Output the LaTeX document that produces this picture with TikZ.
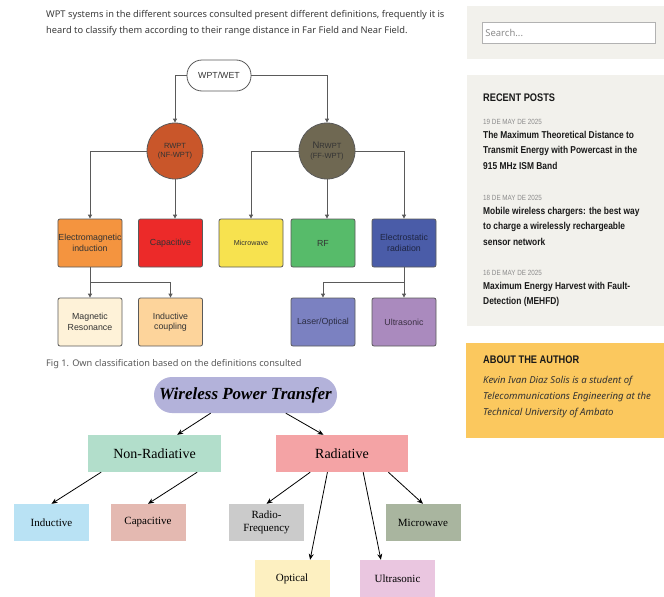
\documentclass[tikz,border=0pt]{standalone}
\usepackage{fontspec}
\setmainfont{Liberation Serif}
\setsansfont{Liberation Sans}
\newfontfamily\plexfont{Noto Sans}
\newfontfamily\narrowfont[FakeStretch=0.84]{Liberation Sans}
\usepackage{tikz}
\usetikzlibrary{shapes.geometric, arrows.meta, positioning, calc}

% page colours
\definecolor{sidebg}{HTML}{F2F1EC}
\definecolor{authorbg}{HTML}{FBC85E}
\definecolor{bodytxt}{HTML}{3A3A3A}
\definecolor{lineg}{HTML}{5A5A5A}
% upper figure
\definecolor{rwptc}{HTML}{C9562A}
\definecolor{nrwptc}{HTML}{6F6852}
\definecolor{emc}{HTML}{F4943F}
\definecolor{capc}{HTML}{EC2A29}
\definecolor{mwc}{HTML}{F7E24F}
\definecolor{rfc}{HTML}{57BB6A}
\definecolor{esc}{HTML}{4A5CA8}
\definecolor{mrc}{HTML}{FEF2D8}
\definecolor{icc}{HTML}{FDD49B}
\definecolor{loc}{HTML}{7B81C1}
\definecolor{usc}{HTML}{AA8ABE}
% lower figure
\definecolor{wptc}{HTML}{B3B2DA}
\definecolor{nonradc}{HTML}{B2DECB}
\definecolor{radc}{HTML}{F4A3A5}
\definecolor{indc}{HTML}{B9E2F4}
\definecolor{capl}{HTML}{E4B9B1}
\definecolor{rfl}{HTML}{CBCBCB}
\definecolor{mwl}{HTML}{A9B59F}
\definecolor{optl}{HTML}{FDF0C1}
\definecolor{usl}{HTML}{EAC6E0}

\begin{document}
\begin{tikzpicture}[x=1pt, y=-1pt,
  ubox/.style={draw=lineg, line width=0.8pt, rounded corners=2pt, minimum width=64pt, minimum height=48pt, inner sep=0.5pt, align=center, font=\sffamily\fontsize{8.8}{10.5}\selectfont, text=black!80},
  ucirc/.style={circle, draw=lineg, line width=0.8pt, minimum size=56pt, inner sep=0pt, align=center, font=\sffamily\fontsize{7.5}{9.5}\selectfont, text=black!80},
  uarr/.style={draw=lineg, line width=0.9pt, -{Triangle[length=4pt,width=4pt]}},
  lbox/.style={minimum width=75pt, minimum height=37pt, inner sep=1pt, align=center, font=\fontsize{11}{12.5}\selectfont},
  larr/.style={line width=0.8pt, -{Stealth[length=6pt,width=5pt]}},
  sidetxt/.style={anchor=west, inner sep=0pt, align=left, font=\narrowfont\bfseries\fontsize{10}{15.5}\selectfont, text=black!90},
  datetxt/.style={anchor=west, inner sep=0pt, font=\narrowfont\fontsize{7.5}{8}\selectfont, text=black!45},
]
\useasboundingbox (0,0) rectangle (664,597);
\fill[white] (0,0) rectangle (664,597);

% Article text
\node[anchor=west, inner sep=0pt, font=\plexfont\fontsize{9.3}{11}\selectfont, text=bodytxt] (par1) at (46,15) {WPT systems in the different sources consulted present different definitions, frequently it is};
\node[anchor=west, inner sep=0pt, font=\plexfont\fontsize{9.3}{11}\selectfont, text=bodytxt] (par2) at (46,31) {heard to classify them according to their range distance in Far Field and Near Field.};

% Upper figure: WPT/WET tree
\begin{scope}
\clip (40,50) rectangle (460,347);
\node[draw=lineg, line width=0.8pt, rounded corners=15pt, minimum width=64pt, minimum height=31pt, font=\sffamily\fontsize{8.8}{10}\selectfont, text=black!80] (wpt) at (219,75.5) {WPT/WET};

\node[ucirc, fill=rwptc] (rwpt) at (175,151) {RWPT\\(NF-WPT)};
\node[ucirc, fill=nrwptc] (nrwpt) at (327,151) {{\fontsize{9.5}{9.5}\selectfont N}RWPT\\(FF-WPT)};

% first level
\node[ubox, fill=emc] (emind) at (90,243) {Electromagnetic\\induction};
\node[ubox, fill=capc] (capac) at (170.5,243) {Capacitive};
\node[ubox, fill=mwc, font=\sffamily\fontsize{7.2}{8}\selectfont] (micro) at (251,243) {Microwave};
\node[ubox, fill=rfc] (rf) at (323,243) {RF};
\node[ubox, fill=esc, text=esc!40!black] (estat) at (404,243) {Electrostatic\\radiation};

% second level
\node[ubox, fill=mrc] (magres) at (90,322) {Magnetic\\Resonance};
\node[ubox, fill=icc] (indcp) at (170.5,322) {Inductive\\coupling};
\node[ubox, fill=loc, text=loc!35!black] (laser) at (323,322) {Laser/Optical};
\node[ubox, fill=usc, text=usc!35!black] (ultra) at (404,322) {Ultrasonic};

% Connectors
\draw[uarr] (wpt.west) -| (rwpt.north);
\draw[uarr] (wpt.east) -| (nrwpt.north);
\draw[uarr] (rwpt.west) -| (emind.north);
\draw[uarr] (rwpt.south) -- (rwpt.south |- capac.north);
\draw[uarr] (nrwpt.west) -| (micro.north);
\draw[uarr] (nrwpt.south) -- (nrwpt.south |- rf.north);
\draw[uarr] (nrwpt.east) -| (estat.north);
\draw[uarr] (emind.south) -- (magres.north);
\draw[uarr] (emind.south) -- ++(0,15) -| (indcp.north);
\draw[uarr] (estat.south) -- (ultra.north);
\draw[uarr] (estat.south) -- ++(0,15) -| (laser.north);
\end{scope}

\node[anchor=west, inner sep=0pt, font=\plexfont\fontsize{9.2}{10}\selectfont, text=black!65] (caption) at (46,364) {Fig 1. Own classification based on the definitions consulted};

% Lower figure: Wireless Power Transfer tree
\node[fill=wptc, rounded corners=18pt, minimum width=183pt, minimum height=36pt, font=\fontsize{17}{19}\selectfont\bfseries\itshape] (wptl) at (245.5,395) {Wireless Power Transfer};

\node[lbox, fill=nonradc, minimum width=133pt, font=\fontsize{14}{16}\selectfont] (nonrad) at (154.5,453.5) {Non-Radiative};
\node[lbox, fill=radc, minimum width=132pt, font=\fontsize{14}{16}\selectfont] (rad) at (342,453.5) {Radiative};

\node[lbox, fill=indc] (ind) at (51.5,522.5) {Inductive};
\node[lbox, fill=capl] (capb) at (148,522.5) {Capacitive};
\node[lbox, fill=rfl] (rfb) at (266.5,522.5) {Radio-\\Frequency};
\node[lbox, fill=mwl] (mwb) at (423,522.5) {Microwave};
\node[lbox, fill=optl] (opt) at (292,578.5) {Optical};
\node[lbox, fill=usl] (usb) at (397.5,578.5) {Ultrasonic};

\draw[larr] ($(wptl.south west)!0.31!(wptl.south east)$) -- ($(nonrad.north west)!0.67!(nonrad.north east)$);
\draw[larr] ($(wptl.south west)!0.72!(wptl.south east)$) -- ($(rad.north west)!0.36!(rad.north east)$);
\draw[larr] ($(nonrad.south west)!0.10!(nonrad.south east)$) -- (ind.north);
\draw[larr] ($(nonrad.south west)!0.82!(nonrad.south east)$) -- (capb.north);
\draw[larr] ($(rad.south west)!0.26!(rad.south east)$) -- (rfb.north);
\draw[larr] ($(rad.south west)!0.39!(rad.south east)$) -- ($(opt.north west)!0.74!(opt.north east)$);
\draw[larr] ($(rad.south west)!0.66!(rad.south east)$) -- ($(usb.north west)!0.28!(usb.north east)$);
\draw[larr] ($(rad.south west)!0.85!(rad.south east)$) -- (mwb.north);

% Sidebar: search
\fill[sidebg] (467,6) rectangle (664,59);
\node[draw=black!30, fill=white, minimum width=173pt, minimum height=21pt, inner sep=0pt] (search) at (568.5,32.5) {};
\node[anchor=west, font=\plexfont\fontsize{9.5}{10}\selectfont, text=black!45] (searchtxt) at (search.west) {Search...};

% Sidebar: recent posts
\fill[sidebg] (467,75) rectangle (664,326);
\node[sidetxt, font=\narrowfont\bfseries\fontsize{11}{12}\selectfont] (recent) at (483,98) {RECENT POSTS};
\node[datetxt] (date1) at (483,122) {19 DE MAY DE 2025};
\node[sidetxt, anchor=north west] (post1) at (483,131) {The Maximum Theoretical Distance to\\Transmit Energy with Powercast in the\\915 MHz ISM Band};
\node[datetxt] (date2) at (483,198) {18 DE MAY DE 2025};
\node[sidetxt, anchor=north west] (post2) at (483,207) {Mobile wireless chargers: the best way\\to charge a wirelessly rechargeable\\sensor network};
\node[datetxt] (date3) at (483,273) {16 DE MAY DE 2025};
\node[sidetxt, anchor=north west] (post3) at (483,282) {Maximum Energy Harvest with Fault-\\Detection (MEHFD)};

% Sidebar: about the author
\fill[authorbg] (466,343) rectangle (664,438);
\node[sidetxt, font=\narrowfont\bfseries\fontsize{11}{12}\selectfont] (about) at (483,360) {ABOUT THE AUTHOR};
\node[anchor=north west, inner sep=0pt, align=left, font=\plexfont\itshape\fontsize{9.6}{16}\selectfont, text=black!80] (bio) at (483,376) {Kevin Ivan Diaz Solis is a student of\\Telecommunications Engineering at the\\Technical University of Ambato};

\end{tikzpicture}
\end{document}
